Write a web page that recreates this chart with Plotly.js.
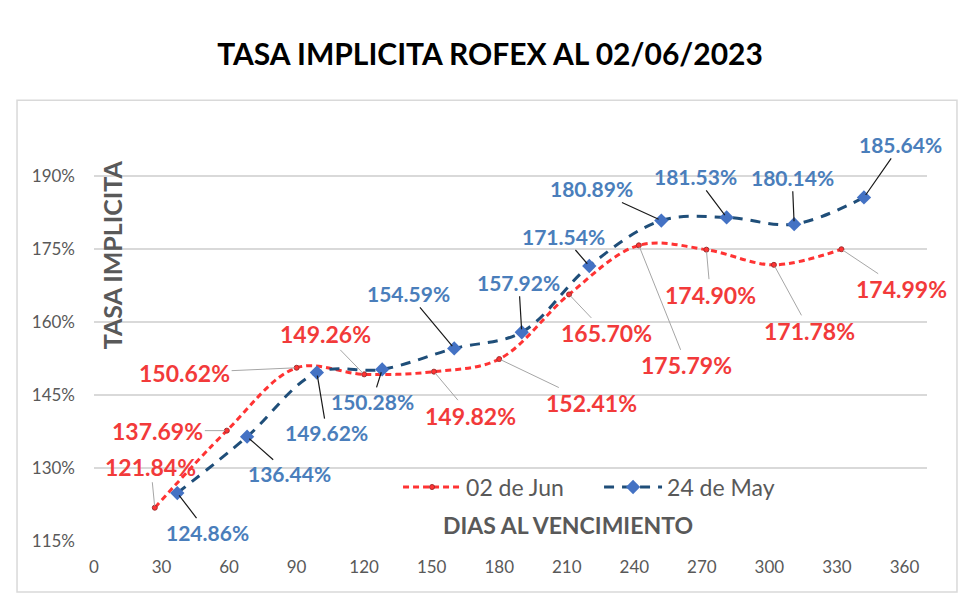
<!DOCTYPE html>
<html>
<head>
<meta charset="utf-8">
<script src="https://cdn.plot.ly/plotly-3.0.1.min.js"></script>
<style>
html,body{margin:0;padding:0;background:#fff;}
#chart{width:980px;height:610px;}
</style>
</head>
<body>
<div id="chart"></div>
<script>
// Data
const junDays = [27, 59, 90, 120, 151, 180, 211, 242, 272, 302, 332];
const junRates = [121.84, 137.69, 150.62, 149.26, 149.82, 152.41, 165.70, 175.79, 174.90, 171.78, 174.99];
const mayDays = [37, 68, 99, 128, 160, 190, 220, 252, 281, 311, 342];
const mayRates = [124.86, 136.44, 149.62, 150.28, 154.59, 157.92, 171.54, 180.89, 181.53, 180.14, 185.64];
const seriesNames = ['02 de Jun', '24 de May'];
const xTicks = [0, 30, 60, 90, 120, 150, 180, 210, 240, 270, 300, 330, 360];
const yTicks = [115, 130, 145, 160, 175, 190];

// label offsets (styling)
const junOffsets = [[-4,-41],[-69,0],[-112,5],[-39,-40],[37,44],[92,44],[37,39],[48,120],[4,45],[36,66],[60,40]];
const mayOffsets = [[30,39],[42,37],[10,60],[-10,32],[-46,-55],[-3,-50],[-26,-30],[-70,-32],[-31,-41],[-2,-47],[37,-53]];

const RED = '#F23A3A';
const BLUE_TXT = '#4A7EBB';
const FONT = 'Lato, "Open Sans", sans-serif';
const GREY = '#595959';

const traces = [
  {
    x: junDays, y: junRates, name: seriesNames[0], type: 'scatter', mode: 'lines+markers',
    line: {color: '#FF3333', width: 3, dash: '6px,4px', shape: 'spline'},
    marker: {symbol: 'circle', size: 5, color: '#FF3333', line: {color: '#A03030', width: 1}}
  },
  {
    x: mayDays, y: mayRates, name: seriesNames[1], type: 'scatter', mode: 'lines+markers',
    line: {color: '#1F4E79', width: 3, dash: '10px,8px', shape: 'spline'},
    marker: {symbol: 'diamond', size: 11, color: '#4472C4'}
  }
];

const annotations = [];
junDays.forEach((d, i) => {
  annotations.push({
    x: d, y: junRates[i], xref: 'x', yref: 'y',
    text: junRates[i].toFixed(2) + '%',
    showarrow: true, arrowhead: 0, arrowwidth: 1, arrowcolor: '#A6A6A6', standoff: 2,
    ax: junOffsets[i][0], ay: junOffsets[i][1],
    font: {family: FONT, size: 23, color: RED, weight: 'bold'}
  });
});
mayDays.forEach((d, i) => {
  annotations.push({
    x: d, y: mayRates[i], xref: 'x', yref: 'y',
    text: mayRates[i].toFixed(2) + '%',
    showarrow: true, arrowhead: 0, arrowwidth: 1.2, arrowcolor: '#1a1a1a', standoff: 3,
    ax: mayOffsets[i][0], ay: mayOffsets[i][1],
    font: {family: FONT, size: 21, color: BLUE_TXT, weight: 'bold'}
  });
});
annotations.push({
  xref: 'paper', yref: 'paper', x: 0.0216, y: 0.67, xanchor: 'center', yanchor: 'middle',
  text: 'TASA IMPLICITA', textangle: -90,
  showarrow: false, font: {family: FONT, size: 25, color: GREY, weight: 'bold'}
});
annotations.push({
  xref: 'paper', yref: 'paper', x: 0.569, y: 0.037, xanchor: 'center', yanchor: 'middle',
  text: 'DIAS AL VENCIMIENTO',
  showarrow: false, font: {family: FONT, size: 23, color: GREY, weight: 'bold'}
});

const layout = {
  width: 980, height: 610,
  margin: {l: 94, r: 53, t: 113, b: 69},
  paper_bgcolor: '#fff', plot_bgcolor: '#fff',
  title: {text: 'TASA IMPLICITA ROFEX AL 02/06/2023', x: 0.5, xref: 'container', y: 0.91, yanchor: 'middle',
          font: {family: FONT, size: 30, color: '#000', weight: 'bold'}},
  xaxis: {
    range: [0, 370], tickvals: xTicks, ticktext: xTicks.map(String),
    showgrid: false, zeroline: false, showline: false, ticks: '',
    tickfont: {family: FONT, size: 17, color: GREY}, ticklabelstandoff: 14
  },
  yaxis: {
    range: [115, 203], tickvals: yTicks, ticktext: yTicks.map(v => v + '%'),
    showgrid: true, gridcolor: '#D9D9D9', gridwidth: 1.5, zeroline: false, showline: false, ticks: '',
    tickfont: {family: FONT, size: 17, color: GREY}, ticklabelstandoff: 18
  },
  showlegend: true,
  legend: {orientation: 'h', x: 0.365, y: 0.126, xanchor: 'left', yanchor: 'middle',
           font: {family: FONT, size: 23, color: GREY}, itemwidth: 58,
           entrywidth: 128, entrywidthmode: 'pixels', bgcolor: 'rgba(0,0,0,0)'},
  annotations: annotations,
  shapes: [
    {type: 'rect', xref: 'paper', yref: 'paper', x0: -0.0924, x1: 1.036, y0: -0.119, y1: 1.03,
     line: {color: '#D9D9D9', width: 1.5}, fillcolor: 'rgba(0,0,0,0)', layer: 'below'}
  ]
};

Plotly.newPlot('chart', traces, layout, {displayModeBar: false, staticPlot: true});
</script>
</body>
</html>
